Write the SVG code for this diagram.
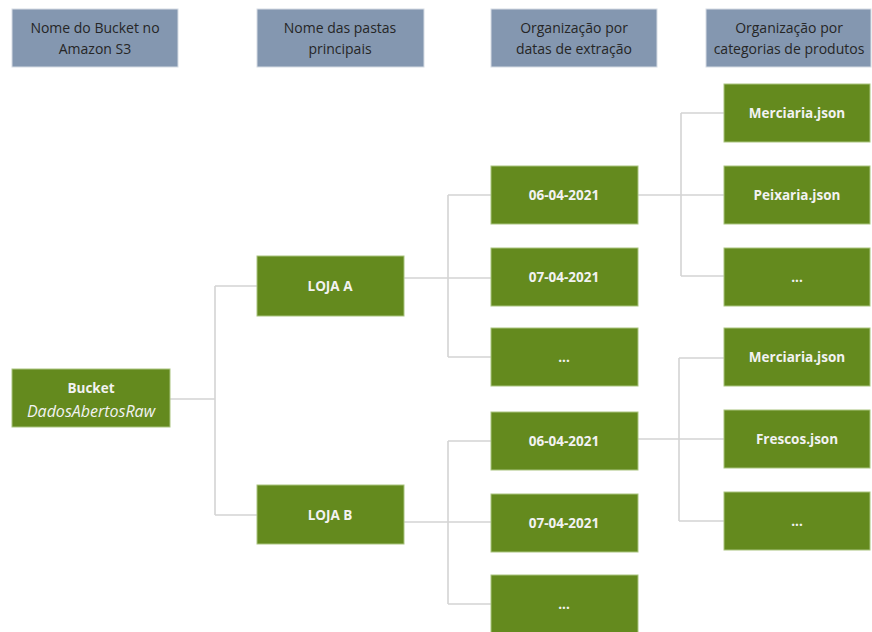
<svg xmlns="http://www.w3.org/2000/svg" width="872" height="632" viewBox="0 0 872 632">
<style>
.hdr rect{fill:#8497b0;stroke:#d6dce4;stroke-width:1}
.hdr text{font-family:"Open Sans","Liberation Sans",sans-serif;font-size:14px;fill:#262626;text-anchor:middle}
.nd rect{fill:#648a1e;stroke:#a9c47f;stroke-width:1}
.nd text{font-family:"Open Sans","Liberation Sans",sans-serif;font-size:13.5px;font-weight:bold;fill:#f2f2f2;text-anchor:middle}
.nd text.it{font-style:italic;font-weight:normal;font-size:16px}
.cn{fill:none;stroke:#d4d4d4;stroke-width:1.6}
</style>
<rect width="872" height="632" fill="#ffffff"/>
<g id="connectors" class="cn">
<path d="M170 399H215M215 286V515M215 286H257M215 515H257"/>
<path d="M404 278H491M448 195V357M448 195H491M448 357H491"/>
<path d="M404 522H491M448 441V604M448 441H491M448 604H491"/>
<path d="M638 195H724M681 113V276M681 113H724M681 276H724"/>
<path d="M638 439H724M679 358V521M679 358H724M679 521H724"/>
</g>
<g id="h1" class="hdr"><rect x="12" y="9" width="166" height="58"/><text x="95" y="33">Nome do Bucket no</text><text x="95" y="54">Amazon S3</text></g>
<g id="h2" class="hdr"><rect x="257" y="9" width="167" height="58"/><text x="340" y="33">Nome das pastas</text><text x="340" y="54">principais</text></g>
<g id="h3" class="hdr"><rect x="491" y="9" width="166" height="58"/><text x="574" y="33">Organização por</text><text x="574" y="54">datas de extração</text></g>
<g id="h4" class="hdr"><rect x="706" y="9" width="165" height="58"/><text x="789" y="33">Organização por</text><text x="789" y="54">categorias de produtos</text></g>
<g id="bucket" class="nd"><rect x="12" y="369" width="158" height="58"/><text x="91" y="393">Bucket</text><text class="it" x="91" y="417">DadosAbertosRaw</text></g>
<g id="lojaA" class="nd"><rect x="257" y="256" width="147" height="60"/><text x="330" y="291">LOJA A</text></g>
<g id="lojaB" class="nd"><rect x="257" y="485" width="147" height="59"/><text x="330" y="520">LOJA B</text></g>
<g id="a1" class="nd"><rect x="491" y="166" width="147" height="58"/><text x="564" y="200">06-04-2021</text></g>
<g id="a2" class="nd"><rect x="491" y="248" width="147" height="58"/><text x="564" y="282">07-04-2021</text></g>
<g id="a3" class="nd"><rect x="491" y="328" width="147" height="58"/><text x="564" y="362">...</text></g>
<g id="b1" class="nd"><rect x="491" y="412" width="147" height="58"/><text x="564" y="446">06-04-2021</text></g>
<g id="b2" class="nd"><rect x="491" y="494" width="147" height="58"/><text x="564" y="528">07-04-2021</text></g>
<g id="b3" class="nd"><rect x="491" y="575" width="147" height="58"/><text x="564" y="609">...</text></g>
<g id="a1j1" class="nd"><rect x="724" y="84" width="146" height="58"/><text x="797" y="118">Merciaria.json</text></g>
<g id="a1j2" class="nd"><rect x="724" y="166" width="146" height="58"/><text x="797" y="200">Peixaria.json</text></g>
<g id="a1j3" class="nd"><rect x="724" y="248" width="146" height="58"/><text x="797" y="282">...</text></g>
<g id="b1j1" class="nd"><rect x="724" y="328" width="146" height="58"/><text x="797" y="362">Merciaria.json</text></g>
<g id="b1j2" class="nd"><rect x="724" y="410" width="146" height="58"/><text x="797" y="444">Frescos.json</text></g>
<g id="b1j3" class="nd"><rect x="724" y="492" width="146" height="58"/><text x="797" y="526">...</text></g>
</svg>
